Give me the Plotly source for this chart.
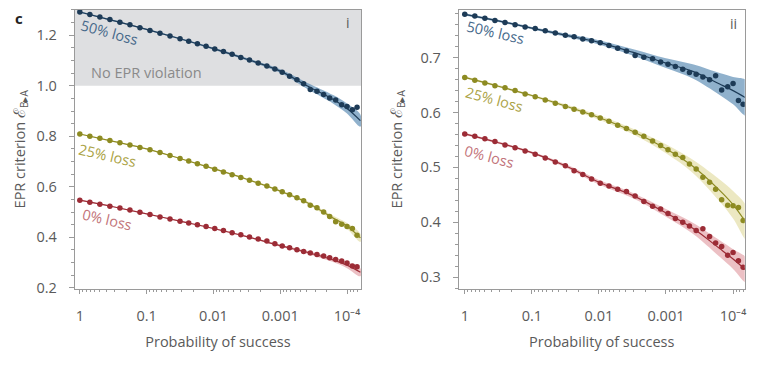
import plotly.graph_objects as go

# ---------------- data (log10 of probability of success) ----------------
log_p = [0, -0.15, -0.3, -0.45, -0.6, -0.75, -0.9, -1.05, -1.2, -1.35, -1.5,
         -1.63, -1.76, -1.89, -2.02, -2.15, -2.28, -2.41, -2.54, -2.67, -2.8,
         -2.92, -3.03, -3.14, -3.25, -3.35, -3.45, -3.55, -3.65, -3.74, -3.83,
         -3.92, -4.0, -4.08, -4.15]
fit_log = [0, -0.5, -1, -1.5, -2, -2.5, -3, -3.4, -3.8, -4.0, -4.2]

# panel i
i_50 = [1.292, 1.282, 1.272, 1.262, 1.251, 1.241, 1.230, 1.219, 1.208, 1.197, 1.186,
        1.176, 1.166, 1.156, 1.145, 1.136, 1.125, 1.112, 1.102, 1.090, 1.078,
        1.066, 1.053, 1.038, 1.024, 1.008, 0.985, 0.978, 0.965, 0.952, 0.944,
        0.925, 0.918, 0.905, 0.915]
i_25 = [0.809, 0.800, 0.792, 0.783, 0.774, 0.765, 0.756, 0.747, 0.736, 0.724, 0.712,
        0.702, 0.691, 0.681, 0.670, 0.659, 0.648, 0.637, 0.626, 0.614, 0.603,
        0.591, 0.580, 0.569, 0.557, 0.545, 0.527, 0.517, 0.500, 0.482, 0.462,
        0.452, 0.443, 0.435, 0.408]
i_0 = [0.547, 0.539, 0.531, 0.523, 0.516, 0.508, 0.499, 0.490, 0.481, 0.473, 0.464,
       0.457, 0.450, 0.443, 0.435, 0.427, 0.418, 0.410, 0.401, 0.393, 0.386,
       0.375, 0.366, 0.359, 0.351, 0.344, 0.338, 0.332, 0.326, 0.319, 0.312,
       0.306, 0.298, 0.287, 0.284]
i_50_fit = [1.292, 1.258, 1.223, 1.186, 1.147, 1.105, 1.058, 1.0, 0.945, 0.91, 0.862]
i_25_fit = [0.809, 0.780, 0.750, 0.712, 0.672, 0.630, 0.583, 0.538, 0.475, 0.445, 0.398]
i_0_fit = [0.547, 0.521, 0.493, 0.464, 0.435, 0.403, 0.367, 0.341, 0.310, 0.290, 0.262]
i_50_err = [0.003, 0.003, 0.003, 0.003, 0.004, 0.005, 0.007, 0.012, 0.017, 0.02, 0.024]
i_25_err = [0.002, 0.002, 0.002, 0.002, 0.003, 0.003, 0.004, 0.006, 0.009, 0.012, 0.016]
i_0_err = [0.002, 0.002, 0.002, 0.002, 0.003, 0.003, 0.004, 0.006, 0.009, 0.012, 0.016]

# panel ii
ii_50 = [0.779, 0.776, 0.772, 0.768, 0.764, 0.760, 0.756, 0.753, 0.749, 0.745, 0.741,
         0.738, 0.734, 0.731, 0.727, 0.722, 0.717, 0.712, 0.704, 0.701, 0.698,
         0.692, 0.688, 0.684, 0.679, 0.673, 0.670, 0.665, 0.660, 0.667, 0.641,
         0.647, 0.653, 0.622, 0.615]
ii_25 = [0.664, 0.659, 0.654, 0.649, 0.645, 0.640, 0.634, 0.629, 0.623, 0.617, 0.611,
         0.606, 0.601, 0.596, 0.590, 0.584, 0.577, 0.571, 0.564, 0.557, 0.548,
         0.540, 0.532, 0.524, 0.518, 0.506, 0.497, 0.482, 0.473, 0.460, 0.441,
         0.431, 0.430, 0.427, 0.403]
ii_0 = [0.561, 0.557, 0.552, 0.547, 0.541, 0.536, 0.530, 0.524, 0.517, 0.510, 0.503,
        0.494, 0.487, 0.479, 0.471, 0.466, 0.460, 0.456, 0.448, 0.438, 0.429,
        0.424, 0.416, 0.407, 0.400, 0.393, 0.385, 0.388, 0.374, 0.362, 0.356,
        0.340, 0.345, 0.330, 0.318]
ii_50_fit = [0.779, 0.767, 0.754, 0.741, 0.728, 0.710, 0.690, 0.675, 0.652, 0.640, 0.626]
ii_25_fit = [0.664, 0.648, 0.631, 0.612, 0.591, 0.566, 0.534, 0.502, 0.458, 0.432, 0.398]
ii_0_fit = [0.561, 0.545, 0.527, 0.503, 0.473, 0.449, 0.417, 0.389, 0.352, 0.333, 0.312]
ii_50_err = [0.002, 0.002, 0.002, 0.003, 0.004, 0.006, 0.009, 0.013, 0.020, 0.025, 0.032]
ii_25_err = [0.002, 0.002, 0.002, 0.003, 0.004, 0.005, 0.008, 0.012, 0.020, 0.025, 0.030]
ii_0_err = [0.002, 0.002, 0.002, 0.003, 0.004, 0.005, 0.007, 0.010, 0.015, 0.018, 0.022]

tick_vals = [1, 0.1, 0.01, 0.001, 0.0001]
tick_text = ["1", "0.1", "0.01", "0.001", "10\u207b\u2074"]
loss_labels = ["50% loss", "25% loss", "0% loss"]

# ---------------- styling ----------------
FONT = "Open Sans"
GREY = "#5a5a5a"
AX = "#9a9a9a"
dot_col = ["#1d3b57", "#8d8b22", "#9c2c36"]
band_col = ["rgba(70,125,170,0.6)", "rgba(205,195,95,0.38)", "rgba(205,90,100,0.38)"]
lab_col = ["#46698a", "#aba346", "#c27379"]

# page body has an 8px margin: figure is 751x360 placed at (8,8)
W, H, OFF = 751, 360, 8


def PX(px):
    return (px - OFF) / W


def PY(py):
    return 1 - (py - OFF) / H


P = [10 ** v for v in log_p]
PF = [10 ** v for v in fit_log]

fig = go.Figure()


def add_series(vals, fit, err, k, xa, ya):
    up = [f + e for f, e in zip(fit, err)]
    lo = [f - e for f, e in zip(fit, err)]
    fig.add_trace(go.Scatter(x=PF + PF[::-1], y=up + lo[::-1], fill="toself",
                             fillcolor=band_col[k], line=dict(width=0, shape="spline"),
                             mode="lines", hoverinfo="skip", xaxis=xa, yaxis=ya))
    fig.add_trace(go.Scatter(x=PF, y=fit, mode="lines",
                             line=dict(color=dot_col[k], width=1.2, shape="spline"),
                             xaxis=xa, yaxis=ya))
    fig.add_trace(go.Scatter(x=P, y=vals, mode="markers",
                             marker=dict(color=dot_col[k], size=5.5),
                             xaxis=xa, yaxis=ya))


for k, (v, f, e) in enumerate([(i_50, i_50_fit, i_50_err), (i_25, i_25_fit, i_25_err),
                               (i_0, i_0_fit, i_0_err)]):
    add_series(v, f, e, k, "x", "y")
for k, (v, f, e) in enumerate([(ii_50, ii_50_fit, ii_50_err), (ii_25, ii_25_fit, ii_25_err),
                               (ii_0, ii_0_fit, ii_0_err)]):
    add_series(v, f, e, k, "x2", "y2")

minor_vals = [m * 10 ** d for d in range(-5, 1) for m in range(2, 10)]

TICKF = dict(family=FONT, size=14.5, color=GREY)
TITF = dict(family=FONT, size=14.5, color=GREY)

xcommon = dict(type="log", tickvals=tick_vals, ticktext=tick_text, ticks="outside",
               ticklen=4, tickcolor=AX, linecolor=AX, linewidth=1, mirror=True,
               showgrid=False, zeroline=False, ticklabelstandoff=10,
               minor=dict(tickvals=minor_vals, ticks="outside", ticklen=2, tickcolor=AX),
               tickfont=TICKF,
               title=dict(text="Probability of success", standoff=12, font=TITF))
ycommon = dict(ticks="outside", ticklen=5, tickcolor=AX, linecolor=AX, linewidth=1,
               mirror=True, showgrid=False, zeroline=False, tickformat=".1f",
               ticklabelstandoff=9, tickfont=TICKF,
               domain=[PY(295), PY(10)])
ytitle = "EPR criterion <span style='font-size:16px'>\u2130</span><sub>B\u25b8A</sub>"

fig.update_layout(
    width=W, height=H, margin=dict(l=0, r=0, t=0, b=0),
    paper_bgcolor="white", plot_bgcolor="white", showlegend=False,
    xaxis=dict(xcommon, domain=[PX(75), PX(362)], range=[0.075, -4.21], anchor="y"),
    xaxis2=dict(xcommon, domain=[PX(460), PX(746.7)], range=[0.089, -4.174], anchor="y2"),
    yaxis=dict(ycommon, range=[0.197, 1.30], tick0=0.2, dtick=0.2, anchor="x",
               minor=dict(dtick=0.05, tick0=0.2, ticks="outside", ticklen=3, tickcolor=AX),
               title=dict(text=ytitle, standoff=11, font=TITF)),
    yaxis2=dict(ycommon, range=[0.279, 0.787], tick0=0.3, dtick=0.1, anchor="x2",
                minor=dict(dtick=0.02, tick0=0.3, ticks="outside", ticklen=3, tickcolor=AX),
                title=dict(text=ytitle, standoff=14, font=TITF)),
)

# grey "no EPR violation" region
fig.add_shape(type="rect", xref="x domain", yref="y", x0=0, x1=1, y0=1.0, y1=1.30,
              fillcolor="#dedfe1", line=dict(width=0), layer="below")

ann = []
ann.append(dict(text="No EPR violation", xref="x", yref="y", x=-1.0, y=1.051,
                showarrow=False, font=dict(family=FONT, size=14.5, color="#8a8a8a")))
# loss labels (x positions in log10 units)
lab_i = [(-0.45, 1.21, 15), (-0.42, 0.722, 13), (-0.41, 0.471, 13)]
lab_ii = [(-0.46, 0.745, 13), (-0.45, 0.624, 15), (-0.36, 0.519, 15)]
for k, (x, y, a) in enumerate(lab_i):
    ann.append(dict(text=loss_labels[k], xref="x", yref="y", x=x, y=y, textangle=a,
                    showarrow=False, font=dict(family=FONT, size=14.5, color=lab_col[k])))
for k, (x, y, a) in enumerate(lab_ii):
    ann.append(dict(text=loss_labels[k], xref="x2", yref="y2", x=x, y=y, textangle=a,
                    showarrow=False, font=dict(family=FONT, size=14.5, color=lab_col[k])))
ann.append(dict(text="i", xref="paper", yref="paper", x=PX(348.5), y=PY(23),
                xanchor="center", yanchor="middle",
                showarrow=False, font=dict(family=FONT, size=14, color=GREY)))
ann.append(dict(text="ii", xref="paper", yref="paper", x=PX(735), y=PY(24),
                xanchor="center", yanchor="middle",
                showarrow=False, font=dict(family=FONT, size=14, color=GREY)))
ann.append(dict(text="<b>c</b>", xref="paper", yref="paper", x=PX(19), y=PY(18.5),
                xanchor="center", yanchor="middle",
                showarrow=False, font=dict(family=FONT, size=15, color="#222222")))
fig.update_layout(annotations=ann)

fig.write_html("out.html")
